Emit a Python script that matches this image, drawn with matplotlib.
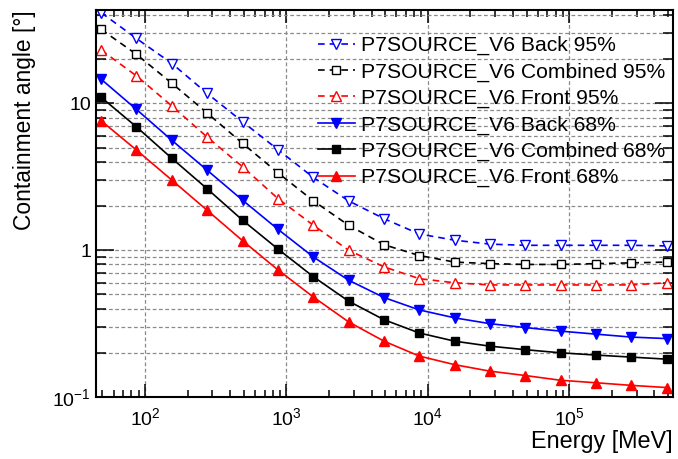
import matplotlib
matplotlib.use("Agg")
import matplotlib.pyplot as plt
from matplotlib.ticker import LogLocator, FixedLocator, FixedFormatter, NullFormatter

plt.rcParams['font.family'] = ['Liberation Sans', 'DejaVu Sans']
plt.rcParams['mathtext.fontset'] = 'custom'
plt.rcParams['mathtext.rm'] = 'Liberation Sans'
plt.rcParams['mathtext.it'] = 'Liberation Sans:italic'
plt.rcParams['mathtext.bf'] = 'Liberation Sans:bold'

# Bin energies (MeV)
energy = [49, 87, 155, 275, 490, 870, 1550, 2750, 4900, 8700,
          15500, 27500, 49000, 87000, 155000, 275000, 490000]

# Containment angles (deg)
back95 = [41.5, 27.7, 18.7, 11.7, 7.5, 4.85, 3.13, 2.17, 1.64, 1.29,
          1.17, 1.10, 1.08, 1.08, 1.08, 1.08, 1.07]
comb95 = [31.9, 21.6, 13.7, 8.6, 5.34, 3.37, 2.17, 1.48, 1.09, 0.92,
          0.83, 0.81, 0.80, 0.80, 0.81, 0.82, 0.83]
front95 = [23.1, 15.4, 9.6, 5.9, 3.7, 2.25, 1.48, 1.0, 0.77, 0.64,
           0.60, 0.58, 0.58, 0.58, 0.58, 0.58, 0.60]
back68 = [14.6, 9.1, 5.6, 3.51, 2.19, 1.39, 0.90, 0.625, 0.476, 0.392,
          0.346, 0.316, 0.297, 0.281, 0.268, 0.256, 0.25]
comb68 = [11.0, 6.92, 4.22, 2.62, 1.6, 1.02, 0.66, 0.45, 0.336, 0.273,
          0.24, 0.222, 0.21, 0.20, 0.193, 0.187, 0.181]
front68 = [7.61, 4.81, 3.0, 1.87, 1.16, 0.735, 0.48, 0.325, 0.24, 0.19,
           0.166, 0.15, 0.14, 0.13, 0.125, 0.12, 0.116]

labels = ["P7SOURCE_V6 Back 95%", "P7SOURCE_V6 Combined 95%",
          "P7SOURCE_V6 Front 95%", "P7SOURCE_V6 Back 68%",
          "P7SOURCE_V6 Combined 68%", "P7SOURCE_V6 Front 68%"]

series = [
    (back95, 'blue', 'v', True, '--'),
    (comb95, 'black', 's', True, '--'),
    (front95, 'red', '^', True, '--'),
    (back68, 'blue', 'v', False, '-'),
    (comb68, 'black', 's', False, '-'),
    (front68, 'red', '^', False, '-'),
]

fig = plt.figure(figsize=(6.78, 4.59), dpi=100)
ax = fig.add_axes([96 / 678, 1 - 397 / 459, 577 / 678, 387 / 459])
ax.set_xscale('log')
ax.set_yscale('log')
ax.set_xlim(45, 5.42e5)
ax.set_ylim(0.1, 43.3)

for (vals, col, mk, hollow, ls), lab in zip(series, labels):
    ax.plot(energy, vals, color=col, linestyle=ls, linewidth=1.2,
            dashes=(4, 3) if ls == '--' else (None, None),
            marker=mk, markersize=6.5 if mk != 's' else 5.2,
            markerfacecolor='white' if hollow else col,
            markeredgecolor=col, markeredgewidth=1.0, label=lab)

# Grid: x at decades, y at every tick
ax.xaxis.set_minor_locator(LogLocator(base=10, subs=range(2, 10), numticks=20))
ax.xaxis.set_minor_formatter(NullFormatter())
ax.set_xticks([1e2, 1e3, 1e4, 1e5])
ax.set_xticklabels([r'$\mathregular{10^{2}}$', r'$\mathregular{10^{3}}$',
                    r'$\mathregular{10^{4}}$', r'$\mathregular{10^{5}}$'])
ax.yaxis.set_major_locator(FixedLocator([0.1, 1, 10]))
ax.yaxis.set_major_formatter(FixedFormatter([r'$\mathregular{10^{-1}}$', '1', '10']))
ax.yaxis.set_minor_locator(LogLocator(base=10, subs=range(2, 10), numticks=20))
ax.yaxis.set_minor_formatter(NullFormatter())

grid_kw = dict(color='#8a8a8a', linestyle=(0, (3, 2)), linewidth=0.9)
ax.grid(True, which='major', axis='x', **grid_kw)
ax.grid(True, which='both', axis='y', **grid_kw)
ax.set_axisbelow(True)

ax.tick_params(which='both', direction='in', top=True, right=True,
               labelsize=14, color='black', width=1.1)
ax.tick_params(axis='y', which='major', length=13)
ax.tick_params(axis='y', which='minor', length=7)
ax.tick_params(axis='x', which='major', length=9.5, pad=7)
ax.tick_params(axis='x', which='minor', length=5)
for s in ax.spines.values():
    s.set_linewidth(1.5)

ax.set_xlabel('Energy [MeV]', loc='right', fontsize=16.8, labelpad=1)
ax.set_ylabel('Containment angle [°]', loc='top', fontsize=16.4, labelpad=12)

leg = ax.legend(loc='upper left', bbox_to_anchor=(318 / 678, 1 - 36 / 459),
                bbox_transform=fig.transFigure, frameon=False, fontsize=15.2,
                handlelength=1.75, handletextpad=0.3, labelspacing=0.34,
                borderpad=0, borderaxespad=0)

fig.savefig('out.png', dpi=100)
